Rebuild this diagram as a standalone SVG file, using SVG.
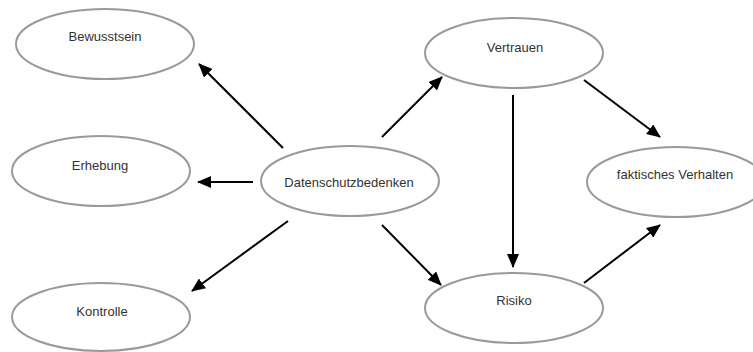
<svg xmlns="http://www.w3.org/2000/svg" width="753" height="352" viewBox="0 0 753 352">
<defs>
<style>
.node ellipse{fill:#fff;stroke:#9a9a9a;stroke-width:2}
.node text{font-family:"Liberation Sans",Arial,sans-serif;font-size:13px;fill:#333;text-anchor:middle}
.edge{stroke:#000;stroke-width:2;fill:none;marker-end:url(#ah)}
</style>
<marker id="ah" markerUnits="userSpaceOnUse" markerWidth="14" markerHeight="12" viewBox="0 0 14 12" refX="13" refY="6" orient="auto">
<path d="M0,0 L14,6 L0,12 Z" fill="#000"/>
</marker>
</defs>
<rect width="753" height="352" fill="#fff"/>
<g id="bewusstsein" class="node"><ellipse cx="105" cy="44" rx="89" ry="35"/><text x="105" y="41">Bewusstsein</text></g>
<g id="erhebung" class="node"><ellipse cx="101" cy="171" rx="89" ry="35"/><text x="100" y="170">Erhebung</text></g>
<g id="kontrolle" class="node"><ellipse cx="101" cy="317" rx="89" ry="34"/><text x="102" y="316">Kontrolle</text></g>
<g id="datenschutzbedenken" class="node"><ellipse cx="350" cy="181" rx="89" ry="35"/><text x="349" y="187">Datenschutzbedenken</text></g>
<g id="vertrauen" class="node"><ellipse cx="514" cy="53" rx="89" ry="35"/><text x="515" y="52">Vertrauen</text></g>
<g id="risiko" class="node"><ellipse cx="514" cy="308" rx="89" ry="35"/><text x="514" y="305">Risiko</text></g>
<g id="faktisches-verhalten" class="node"><ellipse cx="676" cy="182" rx="89" ry="35"/><text x="675" y="179">faktisches Verhalten</text></g>
<g id="connectors">
<line class="edge" x1="283" y1="148" x2="199" y2="64"/>
<line class="edge" x1="253" y1="182" x2="198" y2="182"/>
<line class="edge" x1="288" y1="221" x2="192" y2="291"/>
<line class="edge" x1="382" y1="137" x2="442" y2="77"/>
<line class="edge" x1="382" y1="225" x2="441" y2="285"/>
<line class="edge" x1="513" y1="95" x2="513" y2="267"/>
<line class="edge" x1="584" y1="80" x2="660" y2="137"/>
<line class="edge" x1="584" y1="283" x2="660" y2="225"/>
</g>
</svg>
